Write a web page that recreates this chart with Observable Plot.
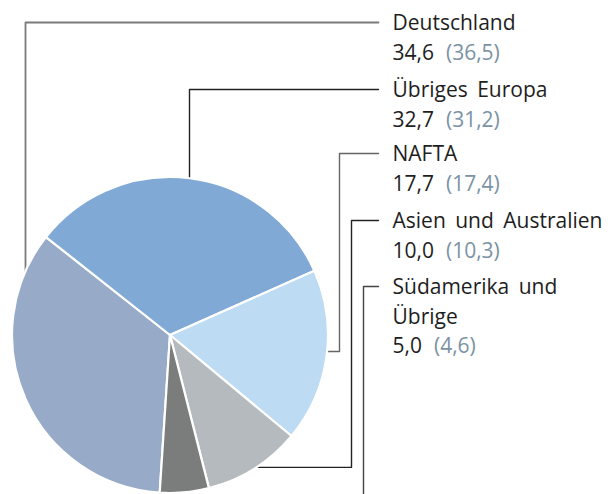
<!DOCTYPE html>
<html><head><meta charset="utf-8">
<script src="https://cdn.jsdelivr.net/npm/d3@7"></script>
<script src="https://cdn.jsdelivr.net/npm/@observablehq/plot@0.6"></script>
<style>
body{margin:0;background:#fff}
svg text{word-spacing:4px}
</style>
</head><body><div id="chart"></div>
<script>
// ---- data ----
const regions = ["Deutschland", "Übriges Europa", "NAFTA", "Asien und Australien", "Südamerika und Übrige"];
const labelLines = [["Deutschland"], ["Übriges Europa"], ["NAFTA"], ["Asien und Australien"], ["Südamerika und", "Übrige"]];
const shares = [34.6, 32.7, 17.7, 10.0, 5.0];
const priorShares = [36.5, 31.2, 17.4, 10.3, 4.6];
const sliceColors = ["#97abc9", "#80a9d6", "#bddbf3", "#b4babd", "#7b7d7c"];
const leaderColors = ["#7a7a7a", "#222222", "#666666", "#222222", "#444444"];

// ---- layout ----
const W = 611, H = 494;
const cx = 170, cy = 335, r = 158;
const labelX = 392, lineEndX = 378;
const anchorY = [22, 89, 153, 220, 286];
const textShift = 1;
const lineH = 29.5;
const fontSize = 21;
const fontFamily = "'Open Sans', sans-serif";
const startDeg = -51.7 - shares[0] * 3.6;

const fmt = v => v.toFixed(1).replace(".", ",");
const ctx = document.createElement("canvas").getContext("2d");
ctx.font = `${fontSize}px ${fontFamily}`;
const measure = s => ctx.measureText(s).width;

const onTop = x => cy - Math.sqrt(r * r - (x - cx) ** 2);
const onBottom = x => cy + Math.sqrt(r * r - (x - cx) ** 2);
const onRight = y => cx + Math.sqrt(r * r - (y - cy) ** 2);

// leader line paths (layout)
const legs = [
  [[25, onTop(25)], [25, anchorY[0]], [lineEndX, anchorY[0]]],
  [[189, onTop(189)], [189, anchorY[1]], [lineEndX, anchorY[1]]],
  [[onRight(351), 351], [339, 351], [339, anchorY[2]], [lineEndX, anchorY[2]]],
  [[257, onBottom(257)], [351, onBottom(257)], [351, anchorY[3]], [lineEndX, anchorY[3]]],
  [[363, H], [363, anchorY[4]], [lineEndX, anchorY[4]]]
];

const labelRows = [], valueRows = [], priorRows = [];
regions.forEach((name, i) => {
  const y0 = anchorY[i] + textShift;
  labelLines[i].forEach((t, j) => labelRows.push({x: labelX, y: y0 + j * lineH, text: t}));
  const vy = y0 + labelLines[i].length * lineH;
  const vt = fmt(shares[i]);
  valueRows.push({x: labelX, y: vy, text: vt});
  priorRows.push({x: labelX + measure(vt) + 12, y: vy, text: `(${fmt(priorShares[i])})`});
});

const pieData = d3.pie().sort(null).value(d => d)
  .startAngle(startDeg * Math.PI / 180)
  .endAngle(startDeg * Math.PI / 180 + 2 * Math.PI)(shares);

const pieMark = Plot.dot([0], {
  x: () => cx, y: () => cy,
  render(index, scales, values, dims, context) {
    const X = scales.x(cx), Y = scales.y(cy), R = scales.x(cx + r) - X;
    const arc = d3.arc().innerRadius(0).outerRadius(R);
    const g = d3.create("svg:g").attr("transform", `translate(${X},${Y})`);
    g.selectAll("path").data(pieData).join("path")
      .attr("d", arc)
      .attr("fill", (d, i) => sliceColors[i])
      .attr("stroke", "#fff")
      .attr("stroke-width", 2.2)
      .attr("stroke-linejoin", "round");
    return g.node();
  }
});

const chart = Plot.plot({
  width: W, height: H, margin: 0,
  x: {domain: [0, W], range: [0, W], axis: null},
  y: {domain: [0, H], range: [0, H], axis: null},
  style: {fontFamily, fontSize: `${fontSize}px`, background: "#fff", overflow: "visible"},
  marks: [
    ...legs.map((pts, i) => Plot.line(pts, {x: d => d[0], y: d => d[1], stroke: leaderColors[i], strokeWidth: i === 0 ? 1.8 : 1.4, curve: "linear"})),
    pieMark,
    Plot.text(labelRows, {x: "x", y: "y", text: "text", textAnchor: "start", lineAnchor: "middle", fill: "#1e1e1e", fontSize})
    ,Plot.text(valueRows, {x: "x", y: "y", text: "text", textAnchor: "start", lineAnchor: "middle", fill: "#1e1e1e", fontSize})
    ,Plot.text(priorRows, {x: "x", y: "y", text: "text", textAnchor: "start", lineAnchor: "middle", fill: "#7b93a4", fontSize})
  ]
});
document.getElementById("chart").appendChild(chart);
</script>
</body></html>
